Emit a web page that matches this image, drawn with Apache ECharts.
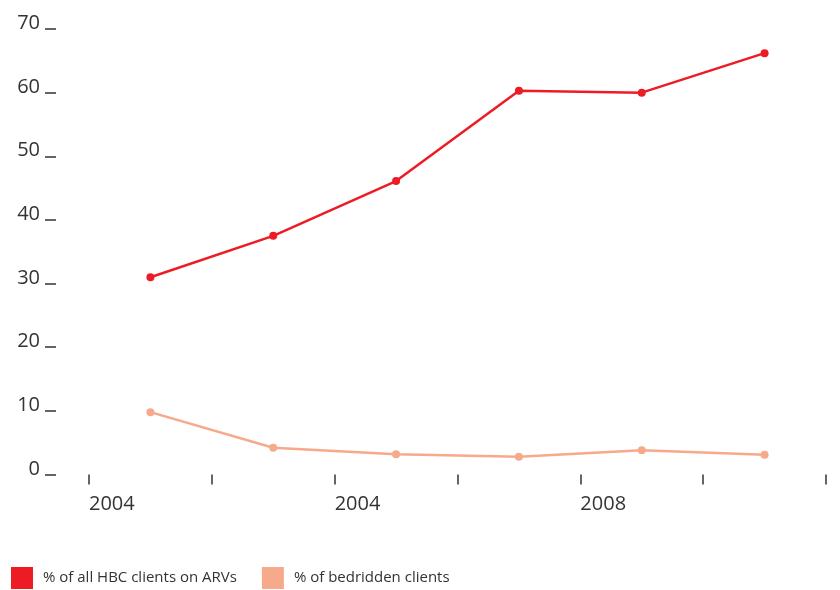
<!DOCTYPE html>
<html>
<head>
<meta charset="utf-8">
<script src="https://cdn.jsdelivr.net/npm/echarts@6/dist/echarts.min.js"></script>
<style>
html,body{margin:0;padding:0;background:#fff;}
#chart{width:840px;height:590px;}
</style>
</head>
<body>
<div id="chart"></div>
<script>
var categories = ['1', '2', '3', '4', '5', '6'];
var xTickLabels = ['2004', '', '2004', '', '2008', '', ''];
var yTickLabels = ['0', '10', '20', '30', '40', '50', '60', '70'];
var seriesNames = ['% of all HBC clients on ARVs', '% of bedridden clients'];
var arvValues = [31.0, 37.5, 46.1, 60.3, 60.0, 66.2];
var bedriddenValues = [9.8, 4.2, 3.2, 2.8, 3.8, 3.1];

var FONT = '"Open Sans", "DejaVu Sans", sans-serif';
var chart = echarts.init(document.getElementById('chart'), null, {renderer: 'canvas'});
chart.setOption({
  animation: false,
  backgroundColor: '#ffffff',
  grid: [
    {left: 89, right: 14, top: 29, bottom: 115.5},
    {left: 56, right: 14, top: 29, bottom: 115.5}
  ],
  legend: {
    left: 11, top: 567, padding: 0,
    itemWidth: 22, itemHeight: 22, itemGap: 25,
    icon: 'rect',
    textStyle: {fontFamily: FONT, fontSize: 15, color: '#333', padding: [0, 0, 0, 5]},
    data: seriesNames
  },
  xAxis: [{
    type: 'category',
    gridIndex: 0,
    data: categories,
    boundaryGap: true,
    axisLine: {show: false},
    axisTick: {show: false},
    axisLabel: {show: false}
  }, {
    type: 'value',
    gridIndex: 0,
    min: 0, max: 6, interval: 1,
    position: 'bottom',
    axisLine: {show: false},
    splitLine: {show: false},
    axisTick: {show: true, length: 10, lineStyle: {color: '#333', width: 1.5}},
    axisLabel: {
      show: true, margin: 20, align: 'left',
      fontFamily: FONT, fontSize: 20, color: '#333',
      formatter: function (v) { return xTickLabels[Math.round(v)] || ''; }
    }
  }, {
    type: 'value',
    gridIndex: 1,
    show: false
  }],
  yAxis: [{
    type: 'value',
    gridIndex: 0,
    min: 0, max: 70, interval: 10,
    show: false
  }, {
    type: 'value',
    gridIndex: 1,
    min: 0, max: 70, interval: 10,
    axisLine: {show: false},
    splitLine: {show: false},
    axisTick: {show: true, length: 11, lineStyle: {color: '#333', width: 1.5}},
    axisLabel: {
      margin: 16, fontFamily: FONT, fontSize: 20, color: '#333',
      verticalAlign: 'bottom', lineHeight: 11,
      formatter: function (v) { return yTickLabels[Math.round(v / 10)]; }
    }
  }],
  series: [{
    name: seriesNames[0],
    type: 'line',
    xAxisIndex: 0, yAxisIndex: 0,
    data: arvValues,
    symbol: 'circle', symbolSize: 8,
    itemStyle: {color: '#ED1C24'},
    lineStyle: {color: '#ED1C24', width: 2.5}
  }, {
    name: seriesNames[1],
    type: 'line',
    xAxisIndex: 0, yAxisIndex: 0,
    data: bedriddenValues,
    symbol: 'circle', symbolSize: 8,
    itemStyle: {color: '#F7A98B'},
    lineStyle: {color: '#F7A98B', width: 2.5}
  }]
});
</script>
</body>
</html>
